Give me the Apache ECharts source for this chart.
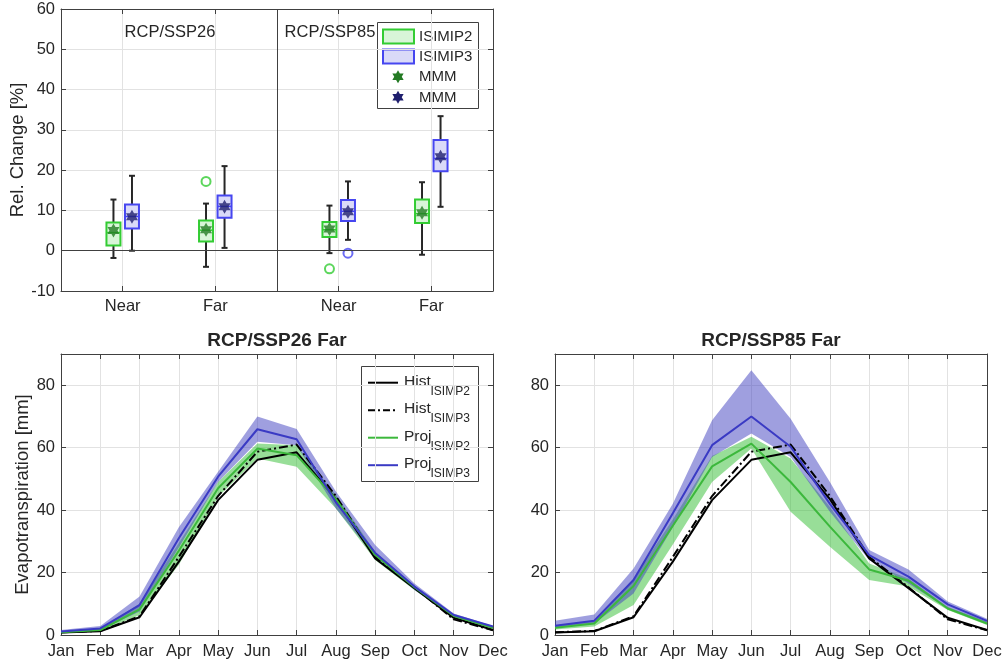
<!DOCTYPE html>
<html>
<head>
<meta charset="utf-8">
<title>Evapotranspiration change</title>
<script src="https://cdn.jsdelivr.net/npm/echarts@6/dist/echarts.min.js"></script>
<style>
    html, body { margin: 0; padding: 0; background: #fff; }
    #main { width: 1006px; height: 666px; }
</style>
</head>
<body>
<div id="main"></div>
<script>
// ---- top panel: relative change boxplots ----
var groupLabels = ['Near', 'Far', 'Near', 'Far'];
var scenarioLabels = ['RCP/SSP26', 'RCP/SSP85'];

// ISIMIP2 box stats per group
var isimip2Low = [-1.8, -4.0, -0.6, -1.0];
var isimip2Q1 = [1.3, 2.3, 3.4, 6.9];
var isimip2Med = [4.5, 5.1, 5.2, 9.2];
var isimip2Q3 = [7.0, 7.5, 7.1, 12.7];
var isimip2High = [12.7, 11.7, 11.2, 17.0];
var isimip2Mmm = [5.0, 5.2, 5.4, 9.4];
var isimip2Outliers = [[1, 17.2], [2, -4.5]]; // [group, value]

// ISIMIP3 box stats per group
var isimip3Low = [0.0, 0.7, 2.7, 10.9];
var isimip3Q1 = [5.5, 8.2, 7.4, 19.7];
var isimip3Med = [8.5, 11.0, 9.8, 22.9];
var isimip3Q3 = [11.5, 13.7, 12.6, 27.5];
var isimip3High = [18.6, 21.0, 17.2, 33.4];
var isimip3Mmm = [8.4, 10.9, 9.7, 23.3];
var isimip3Outliers = [[2, -0.6]];

// ---- bottom panels: monthly evapotranspiration ----
var months = ['Jan', 'Feb', 'Mar', 'Apr', 'May', 'Jun', 'Jul', 'Aug', 'Sep', 'Oct', 'Nov', 'Dec'];

var histIsimp2 = [0.8, 1.2, 5.7, 23.5, 43.2, 56.1, 58.5, 43.5, 24.5, 15.0, 5.5, 1.6];
var histIsimp3 = [0.9, 1.3, 6.0, 25.0, 44.5, 58.7, 61.0, 44.5, 25.0, 15.3, 5.0, 1.5];

// RCP/SSP26 Far
var proj2Ssp26 = [0.9, 1.6, 8.2, 27.0, 47.0, 59.7, 57.6, 43.5, 25.6, 15.3, 6.1, 2.3];
var proj2Ssp26Lo = [0.5, 1.3, 6.4, 22.5, 44.3, 56.5, 53.9, 40.5, 24.0, 14.4, 5.7, 1.9];
var proj2Ssp26Hi = [1.1, 1.9, 10.1, 29.5, 49.0, 61.3, 60.8, 44.8, 26.7, 15.7, 6.4, 2.7];
var proj3Ssp26 = [1.1, 2.1, 9.6, 31.0, 50.7, 65.9, 62.7, 42.5, 26.3, 15.5, 6.4, 2.7];
var proj3Ssp26Lo = [0.7, 1.6, 7.5, 28.0, 49.0, 61.9, 60.8, 40.5, 25.0, 14.4, 5.9, 2.1];
var proj3Ssp26Hi = [1.6, 2.9, 12.3, 34.5, 52.3, 70.0, 66.0, 46.0, 28.8, 16.5, 6.9, 2.9];

// RCP/SSP85 Far
var proj2Ssp85 = [2.3, 3.7, 15.7, 35.0, 54.0, 61.3, 49.0, 34.7, 21.0, 17.4, 8.5, 3.7];
var proj2Ssp85Lo = [1.8, 2.7, 9.6, 29.0, 49.0, 59.7, 39.5, 28.3, 17.6, 15.5, 8.0, 3.2];
var proj2Ssp85Hi = [2.9, 4.6, 18.1, 37.0, 57.3, 63.5, 56.5, 41.0, 22.9, 18.1, 9.0, 4.3];
var proj3Ssp85 = [3.0, 4.6, 17.6, 39.0, 60.8, 70.0, 60.3, 42.0, 25.6, 18.7, 9.8, 4.5];
var proj3Ssp85Lo = [2.5, 3.7, 13.3, 34.5, 57.0, 64.5, 57.0, 39.5, 24.0, 16.5, 8.5, 3.7];
var proj3Ssp85Hi = [4.6, 6.6, 21.3, 42.0, 68.8, 84.8, 69.3, 49.0, 27.2, 21.0, 10.7, 5.2];

// ---- styles / layout ----
var FONT = 'Liberation Sans, Arial, Helvetica, sans-serif';
var TXT = '#262626';
var AXIS = '#404040';
var GRIDLINE = '#e2e2e2';
var GREEN_EDGE = '#33cc33', GREEN_FILL = '#d8f5d8', GREEN_STAR = '#237a23';
var BLUE_EDGE = '#4646f0', BLUE_FILL = '#dadaf8', BLUE_STAR = '#1f1f6e';
var GREEN_LINE = '#3cb83c', BLUE_LINE = '#3a3ac4';
var GREEN_BAND = 'rgba(50,190,50,0.5)', BLUE_BAND = 'rgba(64,64,191,0.5)';

// top panel x layout: slots on a 0..14 axis, groups sit at these slots
var slotOf = [2, 5, 9, 12];
var dividerSlot = 7;
var boxOffset = 0.3;
var slotLabels = [];
for (var s = 0; s <= 14; s++) slotLabels.push('');
slotOf.forEach(function (sl, i) { slotLabels[sl] = groupLabels[i]; });

var chart = echarts.init(document.getElementById('main'), null, {renderer: 'canvas'});

// six pointed star (hexagram) as a path
function starPoints(cx, cy, r) {
    var pts = [];
    for (var k = 0; k < 12; k++) {
        var a = (-90 + k * 30) * Math.PI / 180;
        var rr = (k % 2 === 0) ? r : r / Math.sqrt(3);
        pts.push([cx + rr * Math.cos(a), cy + rr * Math.sin(a)]);
    }
    return pts;
}
var starPath = 'path://' + starPoints(10, 10, 10).map(function (p, i) {
    return (i === 0 ? 'M' : 'L') + p[0].toFixed(3) + ' ' + p[1].toFixed(3);
}).join(' ') + ' Z';

function boxData(low, q1, med, q3, high, offset) {
    return low.map(function (v, i) {
        return [slotOf[i] + offset, low[i], q1[i], med[i], q3[i], high[i]];
    });
}

function boxRenderer(fill, edge) {
    return function (params, api) {
        var x = api.value(0);
        var pLow = api.coord([x, api.value(1)]);
        var pQ1 = api.coord([x, api.value(2)]);
        var pMed = api.coord([x, api.value(3)]);
        var pQ3 = api.coord([x, api.value(4)]);
        var pHigh = api.coord([x, api.value(5)]);
        var half = 7, cap = 3;
        var cx = pLow[0];
        return {
            type: 'group',
            children: [
                {type: 'line', shape: {x1: cx, y1: pLow[1], x2: cx, y2: pHigh[1]},
                    style: {stroke: TXT, lineWidth: 2}},
                {type: 'line', shape: {x1: cx - cap, y1: pLow[1], x2: cx + cap, y2: pLow[1]},
                    style: {stroke: TXT, lineWidth: 2}},
                {type: 'line', shape: {x1: cx - cap, y1: pHigh[1], x2: cx + cap, y2: pHigh[1]},
                    style: {stroke: TXT, lineWidth: 2}},
                {type: 'rect', shape: {x: cx - half, y: pQ3[1], width: half * 2, height: pQ1[1] - pQ3[1]},
                    style: {fill: fill, stroke: edge, lineWidth: 2}},
                {type: 'line', shape: {x1: cx - half, y1: pMed[1], x2: cx + half, y2: pMed[1]},
                    style: {stroke: edge, lineWidth: 1.5}}
            ]
        };
    };
}

function mmmData(vals, offset) {
    return vals.map(function (v, i) { return [slotOf[i] + offset, v]; });
}
function outlierData(list, offset) {
    return list.map(function (o) { return [slotOf[o[0]] + offset, o[1]]; });
}

// axis helpers
function valueAxis(grid, min, max, interval, pos, labels, name, nameGap) {
    return {
        type: 'value', gridIndex: grid, position: pos, min: min, max: max, interval: interval,
        name: name || '', nameLocation: 'middle', nameGap: nameGap || 0,
        nameTextStyle: {fontFamily: FONT, fontSize: 18.5, color: TXT},
        axisLine: {show: true, lineStyle: {color: AXIS, width: 1}},
        axisTick: {show: true, inside: true, length: 5, lineStyle: {color: AXIS}},
        axisLabel: {show: labels, margin: 6, fontFamily: FONT, fontSize: 16.5, color: TXT, showMaxLabel: max !== 90},
        splitLine: {show: labels, lineStyle: {color: GRIDLINE, width: 1}}
    };
}
function monthAxis(grid, pos, labels) {
    return {
        type: 'category', gridIndex: grid, position: pos, data: months, boundaryGap: false,
        axisLine: {show: true, onZero: false, lineStyle: {color: AXIS, width: 1}},
        axisTick: {show: true, inside: true, length: 5, lineStyle: {color: AXIS}},
        axisLabel: {show: labels, margin: 8, interval: 0, fontFamily: FONT, fontSize: 16.5, color: TXT},
        splitLine: {show: labels, interval: 0, lineStyle: {color: GRIDLINE, width: 1}}
    };
}
function slotShown(index, value) { return value !== ''; }
function slotAxis(pos, labels) {
    return {
        type: 'category', gridIndex: 0, position: pos, data: slotLabels, boundaryGap: false,
        axisLine: {show: true, onZero: false, lineStyle: {color: AXIS, width: 1}},
        axisTick: {show: true, inside: true, length: 5, interval: slotShown, lineStyle: {color: AXIS}},
        axisLabel: {show: labels, margin: 7, interval: slotShown, fontFamily: FONT, fontSize: 16.5, color: TXT},
        splitLine: {show: labels, interval: slotShown, lineStyle: {color: GRIDLINE, width: 1}}
    };
}

// band = invisible lower line + stacked difference with fill
function bandSeries(xi, yi, lo, hi, color, key) {
    return [{
        type: 'line', xAxisIndex: xi, yAxisIndex: yi, data: lo, stack: key,
        symbol: 'none', silent: true, lineStyle: {opacity: 0}
    }, {
        type: 'line', xAxisIndex: xi, yAxisIndex: yi, stack: key,
        data: hi.map(function (v, i) { return +(v - lo[i]).toFixed(2); }),
        symbol: 'none', silent: true, lineStyle: {opacity: 0},
        areaStyle: {color: color, opacity: 1}
    }];
}
function lineSeries(xi, yi, name, data, color, type) {
    return {
        type: 'line', name: name, xAxisIndex: xi, yAxisIndex: yi, data: data,
        symbol: 'none', lineStyle: {color: color, width: 2, type: type || 'solid'}
    };
}
function panelSeries(xi, yi, p2, p2lo, p2hi, p3, p3lo, p3hi, key) {
    return [].concat(
        bandSeries(xi, yi, p2lo, p2hi, GREEN_BAND, key + 'g'),
        bandSeries(xi, yi, p3lo, p3hi, BLUE_BAND, key + 'b'),
        [
            lineSeries(xi, yi, 'Hist2', histIsimp2, '#000'),
            lineSeries(xi, yi, 'Hist3', histIsimp3, '#000', [9, 3, 2, 3]),
            lineSeries(xi, yi, 'Proj2', p2, GREEN_LINE),
            lineSeries(xi, yi, 'Proj3', p3, BLUE_LINE)
        ]
    );
}

// legends drawn as graphic groups
function txt(x, y, text, size, align, bold) {
    return {type: 'text', x: x, y: y, silent: true, style: {
        text: text, fill: TXT, fontFamily: FONT, fontSize: size,
        fontWeight: bold ? 'bold' : 'normal', textAlign: align || 'left', textVerticalAlign: 'middle'}};
}
function starShape(cx, cy, r, color) {
    return {type: 'polygon', silent: true, shape: {points: starPoints(cx, cy, r)}, style: {fill: color}};
}

var topLegend = [
    {type: 'rect', shape: {x: 377.5, y: 22.5, width: 101, height: 86}, style: {fill: '#fff', stroke: AXIS, lineWidth: 1}},
    {type: 'rect', shape: {x: 383, y: 29.5, width: 31, height: 14}, style: {fill: GREEN_FILL, stroke: GREEN_EDGE, lineWidth: 2}},
    {type: 'rect', shape: {x: 383, y: 49.5, width: 31, height: 14}, style: {fill: BLUE_FILL, stroke: BLUE_EDGE, lineWidth: 2}},
    starShape(398, 76.7, 6.5, GREEN_STAR),
    starShape(398, 97.3, 6.5, BLUE_STAR),
    txt(419, 37, 'ISIMIP2', 15),
    txt(419, 57, 'ISIMIP3', 15),
    txt(419, 77, 'MMM', 15),
    txt(419, 97.5, 'MMM', 15)
];

var legendRows = [
    {main: 'Hist', sub: 'ISIMP2', color: '#000', dash: null},
    {main: 'Hist', sub: 'ISIMP3', color: '#000', dash: [7, 3, 2, 3]},
    {main: 'Proj', sub: 'ISIMP2', color: GREEN_LINE, dash: null},
    {main: 'Proj', sub: 'ISIMP3', color: BLUE_LINE, dash: null}
];
var bottomLegend = [
    {type: 'rect', shape: {x: 361.5, y: 366.5, width: 117, height: 115}, style: {fill: '#fff', stroke: AXIS, lineWidth: 1}}
];
legendRows.forEach(function (r, i) {
    var y = 382.7 + i * 27.5;
    bottomLegend.push({type: 'line', silent: true, shape: {x1: 368, y1: y, x2: 398, y2: y},
        style: {stroke: r.color, lineWidth: 2, lineDash: r.dash}});
    bottomLegend.push(txt(404, y - 1, r.main, 15.5));
    bottomLegend.push(txt(430.5, y + 8.5, r.sub, 12));
});

var option = {
    animation: false,
    backgroundColor: '#fff',
    textStyle: {fontFamily: FONT},
    grid: [
        {left: 61, top: 9, width: 432, height: 282, outerBoundsMode: 'none', containLabel: false},
        {left: 61, top: 354, width: 432, height: 281, outerBoundsMode: 'none', containLabel: false},
        {left: 555, top: 354, width: 432, height: 281, outerBoundsMode: 'none', containLabel: false}
    ],
    xAxis: [
        slotAxis('bottom', true),
        {type: 'value', gridIndex: 0, min: 0, max: 14, show: false},
        slotAxis('top', false),
        monthAxis(1, 'bottom', true),
        monthAxis(1, 'top', false),
        monthAxis(2, 'bottom', true),
        monthAxis(2, 'top', false)
    ],
    yAxis: [
        valueAxis(0, -10, 60, 10, 'left', true, 'Rel. Change [%]', 33),
        valueAxis(0, -10, 60, 10, 'right', false),
        valueAxis(1, 0, 90, 20, 'left', true, 'Evapotranspiration [mm]', 27),
        valueAxis(1, 0, 90, 20, 'right', false),
        valueAxis(2, 0, 90, 20, 'left', true),
        valueAxis(2, 0, 90, 20, 'right', false)
    ],
    graphic: [
        txt(170, 32, scenarioLabels[0], 16.5, 'center'),
        txt(330, 32, scenarioLabels[1], 16.5, 'center'),
        txt(277, 341, scenarioLabels[0] + ' Far', 19, 'center', true),
        txt(771, 341, scenarioLabels[1] + ' Far', 19, 'center', true),
        {type: 'group', children: topLegend},
        {type: 'group', children: bottomLegend}
    ].map(function (g) { g.z = 100; return g; }),
    series: [].concat(
        [{
            type: 'custom', name: 'ISIMIP2', xAxisIndex: 1, yAxisIndex: 0,
            renderItem: boxRenderer(GREEN_FILL, GREEN_EDGE),
            data: boxData(isimip2Low, isimip2Q1, isimip2Med, isimip2Q3, isimip2High, -boxOffset),
            // divider between scenarios and zero line
            markLine: {
                silent: true, symbol: 'none', label: {show: false},
                lineStyle: {color: AXIS, type: 'solid', width: 1},
                data: [{xAxis: dividerSlot}, {yAxis: 0}]
            }
        }, {
            type: 'custom', name: 'ISIMIP3', xAxisIndex: 1, yAxisIndex: 0,
            renderItem: boxRenderer(BLUE_FILL, BLUE_EDGE),
            data: boxData(isimip3Low, isimip3Q1, isimip3Med, isimip3Q3, isimip3High, boxOffset)
        }, {
            type: 'scatter', xAxisIndex: 1, yAxisIndex: 0, symbol: 'circle', symbolSize: 9,
            itemStyle: {color: 'rgba(0,0,0,0)', borderColor: GREEN_EDGE, borderWidth: 2},
            data: outlierData(isimip2Outliers, -boxOffset)
        }, {
            type: 'scatter', xAxisIndex: 1, yAxisIndex: 0, symbol: 'circle', symbolSize: 9,
            itemStyle: {color: 'rgba(0,0,0,0)', borderColor: BLUE_EDGE, borderWidth: 2},
            data: outlierData(isimip3Outliers, boxOffset)
        }, {
            type: 'scatter', name: 'MMM', xAxisIndex: 1, yAxisIndex: 0, symbol: starPath, symbolSize: [12, 14],
            itemStyle: {color: GREEN_STAR}, data: mmmData(isimip2Mmm, -boxOffset)
        }, {
            type: 'scatter', name: 'MMM', xAxisIndex: 1, yAxisIndex: 0, symbol: starPath, symbolSize: [12, 14],
            itemStyle: {color: BLUE_STAR}, data: mmmData(isimip3Mmm, boxOffset)
        }],
        panelSeries(3, 2, proj2Ssp26, proj2Ssp26Lo, proj2Ssp26Hi, proj3Ssp26, proj3Ssp26Lo, proj3Ssp26Hi, 's26'),
        panelSeries(5, 4, proj2Ssp85, proj2Ssp85Lo, proj2Ssp85Hi, proj3Ssp85, proj3Ssp85Lo, proj3Ssp85Hi, 's85')
    )
};

chart.setOption(option);
</script>
</body>
</html>
